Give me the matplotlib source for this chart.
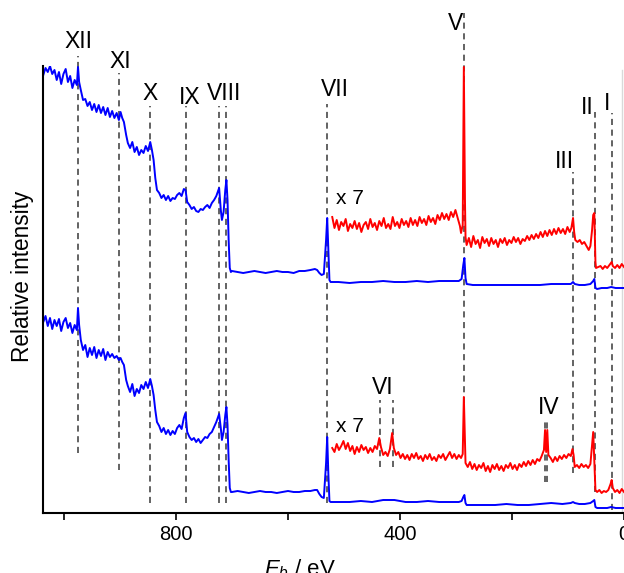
#!/usr/bin/env python

import matplotlib.pyplot as plt

plt.rcParams["font.family"] = ["Liberation Sans", "DejaVu Sans"]
plt.rcParams["mathtext.fontset"] = "custom"
plt.rcParams["mathtext.rm"] = "Liberation Sans"
plt.rcParams["mathtext.it"] = "Liberation Sans:italic"

# survey spectra, binding energy in eV, intensity in arbitrary units
BLUE_EV = [
    1037, 1033, 1029, 1025, 1021, 1017, 1013, 1009, 1005, 1001, 997, 993, 989, 985, 981, 977,
    975, 973, 970,
    966, 962, 958, 954, 950, 946, 942, 938, 934, 930, 926, 922, 918, 914, 910, 906, 902,
    899, 896, 893, 889, 886,
    882, 878, 874, 870, 866, 862, 858, 854, 850, 846,
    843, 840, 837, 834,
    830, 826, 822, 818, 814, 810, 806, 802, 798, 794, 790, 786,
    783, 780,
    776, 772, 768, 764, 760, 756, 752, 748, 744, 740, 736, 732, 728,
    723, 720, 718, 715, 712, 710, 708, 706, 704, 702,
    700, 690, 680, 670, 660, 650, 640, 630, 620, 610, 600, 590, 580, 570, 560,
    552, 548, 544, 540, 536, 532, 530, 528, 526, 524,
    510, 490, 470, 450, 430, 410, 390, 370, 350, 330, 310, 295,
    290, 287, 285, 283, 281,
    270, 250, 230, 210, 190, 170, 150, 130, 110,
    95, 91, 88, 80, 70, 60, 55, 53, 51, 48, 40, 30, 23, 15, 5, 0,
]

TOP_BLUE = [
    438, 445, 441, 447, 439, 443, 433, 441, 429, 439, 444, 431, 437, 425, 433, 428,
    446, 431, 423,
    413, 414, 407, 411, 403, 409, 401, 408, 400, 406, 398, 405, 396, 402, 395, 400, 393,
    401, 395, 391, 378, 370,
    365, 371, 361, 366, 358, 363, 360, 367, 362, 371,
    363, 353, 335, 323,
    320, 315, 318, 313, 317, 312, 315, 314, 318, 320, 317, 324,
    323, 311,
    308, 304, 306, 302, 301, 304, 303, 306, 308, 305, 310, 313, 317,
    325, 303, 293, 301, 323, 333, 313, 273, 245, 241,
    242, 241, 240, 241, 242, 241, 240, 241, 242, 241, 241, 240, 242, 242, 243,
    244, 243, 240, 238, 239, 273, 295, 263, 233, 231,
    231, 230, 231, 231, 232, 231, 231, 232, 231, 232, 232, 232,
    234, 248, 255, 235, 229,
    228, 228, 228, 228, 228, 228, 228, 229, 229,
    229, 231, 229, 228, 228, 229, 232, 234, 225, 224, 225, 225, 226, 225, 225, 225,
]

BOTTOM_BLUE = [
    191, 197, 187, 195, 184, 193, 187, 194, 182, 191, 195, 185, 190, 180, 188, 183,
    205, 188, 173,
    163, 168, 156, 165, 158, 166, 155, 163, 157, 164, 153, 161, 156, 159, 155, 157, 153,
    155, 151, 148, 133, 127,
    121, 129, 117, 124, 120, 128, 124, 131, 125, 134,
    127, 118, 103, 91,
    87, 81, 85, 79, 83, 78, 82, 79, 85, 88, 84, 95,
    100, 81,
    76, 73, 75, 71, 74, 70, 73, 76, 75, 79, 81, 86, 91,
    99, 85, 73, 81, 98, 106, 88, 53, 25, 21,
    21, 22, 21, 20, 21, 22, 21, 21, 20, 21, 22, 21, 21, 22, 22,
    23, 23, 19, 16, 15, 50, 76, 40, 12, 11,
    11, 11, 12, 11, 13, 13, 11, 11, 12, 11, 11, 11,
    12, 16, 18, 10, 8,
    8, 8, 8, 9, 8, 8, 9, 10, 9,
    10, 11, 10, 9, 9, 10, 12, 13, 6, 5, 5, 5, 6, 5, 5, 5,
]

# x 7 magnified traces below 520 eV
TOP_RED_EV = [
    521, 517, 513, 509, 505, 501, 497, 493, 489, 485, 481, 477, 473, 469, 465, 461,
    457, 453, 449, 445, 441, 437, 433, 429, 425, 421, 417, 413, 409, 405, 401, 397,
    393, 389, 385, 381, 377, 373, 369, 365, 361, 357, 353, 349, 345, 341, 337, 333,
    329, 325, 321, 317, 313, 309, 305, 301, 297,
    293, 291, 288, 286, 284, 283, 281,
    277, 273, 269, 265, 261, 257, 253, 249, 245, 241, 237, 233, 229, 225, 221, 217,
    213, 209, 205, 201, 197, 193, 189, 185, 181, 177, 173, 169, 165, 161, 157, 153,
    149, 145, 141, 137, 133, 129, 125, 121, 117, 113, 109, 105, 101, 97, 94,
    91, 89, 87, 83, 79, 75, 71, 67, 63, 60, 57, 55, 53, 52, 51, 50,
    46, 42, 38, 34, 30, 26, 22, 20, 16, 12, 8, 4, 0,
]

TOP_RED = [
    296, 285, 293, 283, 291, 287, 294, 282, 289, 285, 292, 284, 290, 281, 288, 291,
    284, 294, 286, 290, 283, 292, 287, 295, 285, 289, 284, 296, 287, 291, 285, 294,
    288, 292, 286, 295, 288, 293, 287, 296, 290, 294, 288, 297, 291, 295, 289, 298,
    293, 300, 294, 299, 293, 301, 296, 303, 295,
    287, 280, 288, 446, 313, 276, 268,
    275, 266, 277, 269, 273, 265, 276, 270, 274, 267, 275, 269, 273, 266, 274, 270,
    275, 268, 273, 270, 276, 271, 275, 269, 274, 272, 277, 273, 278, 274, 279, 275,
    281, 276, 282, 277, 283, 278, 284, 279, 285, 280, 284, 279, 286, 281, 285,
    295, 281, 273, 271, 273, 269, 271, 267, 263, 267, 283, 298, 300, 273, 251, 245,
    246, 247, 244, 247, 245, 248, 251, 247, 245, 248, 245, 249, 246,
]

BOTTOM_RED_EV = [
    521, 517, 513, 509, 505, 501, 497, 493, 489, 485, 481, 477, 473, 469, 465, 461,
    457, 453, 449, 445, 441, 437, 434, 430, 426, 422, 418, 414, 411, 407, 403, 399,
    395, 391, 387, 383, 379, 375, 371, 367, 363, 359, 355, 351, 347, 343, 339, 335,
    331, 327, 323, 319, 315, 311, 307, 303, 299, 295, 291, 288, 286, 284, 283,
    279, 275, 271, 267, 263, 259, 255, 251, 247, 243, 239, 235, 231, 227, 223, 219,
    215, 211, 207, 203, 199, 195, 191, 187, 183, 179, 175, 171, 167, 163, 159, 155,
    151, 147, 143, 141, 139, 137, 135, 131, 127, 123, 119, 115, 111, 107, 103, 99,
    95, 92, 90, 88, 84, 80, 76, 72, 68, 64, 60, 57, 55, 53, 51, 48,
    44, 40, 36, 32, 28, 24, 22, 20, 16, 12, 8, 4, 0,
]

BOTTOM_RED = [
    65, 61, 69, 63, 67, 72, 64, 70, 62, 67, 59, 66, 61, 68, 63, 66,
    60, 65, 61, 67, 64, 75, 66, 58, 61, 57, 64, 80, 65, 58, 61, 55,
    59, 54, 58, 53, 59, 55, 60, 54, 57, 52, 58, 54, 59, 53, 56, 52,
    58, 55, 59, 53, 57, 61, 55, 59, 54, 58, 55, 59, 116, 73, 50,
    46, 51, 44, 49, 43, 48, 45, 50, 42, 47, 41, 48, 44, 49, 43, 47,
    42, 48, 45, 50, 44, 48, 43, 49, 46, 51, 47, 52, 48, 53, 49, 54,
    52, 57, 63, 83, 61, 83, 58, 55, 51, 56, 52, 57, 54, 58, 55, 59,
    57, 64, 58, 46, 48, 45, 49, 46, 48, 45, 49, 68, 81, 53, 23, 21,
    23, 20, 22, 21, 23, 29, 33, 25, 21, 23, 20, 24, 21,
]

# peak markers: position, top and bottom of the dashed line
MARK_EV = [975, 901, 846, 783, 723, 710, 530, 285, 90.5, 51, 22, 436, 413, 141.5, 137.5]
MARK_TOP = [457, 440, 407, 407, 407, 407, 409, 500, 341, 401, 400, 113, 113, 95, 95]
MARK_BOTTOM = [60, 43, 10, 10, 10, 10, 10, 110, 40, 21, 3, 46, 46, 31, 31]

LABEL_TEXT = ["XII", "XI", "X", "IX", "VIII", "VII", "V", "III", "II", "I", "VI", "IV"]
LABEL_EV = [975, 900, 846, 775, 714, 516, 300, 107, 66, 30, 430, 134]
LABEL_Y = [471, 451, 419, 416, 419, 424, 490, 351, 405, 410, 126, 106]

SCALE_TEXT = ["x 7", "x 7"]
SCALE_EV = [489, 489]
SCALE_Y = [314, 86]

XTICKS = [1000, 800, 600, 400, 200, 0]
XTICK_LABELS = ["", "800", "", "400", "", "0"]


def main():
    fig = plt.figure(figsize=(6.24, 5.73), dpi=100)
    ax = fig.add_axes([43 / 624, 60 / 573, 581 / 624, 447 / 573])

    for x, y0, y1 in zip(MARK_EV, MARK_BOTTOM, MARK_TOP):
        ax.plot([x, x], [y0, y1], color="0.22", lw=1.1, dashes=(4, 3),
                clip_on=False, zorder=1)

    ax.plot(BLUE_EV, TOP_BLUE, color="#0000ff", lw=1.4, zorder=2)
    ax.plot(BLUE_EV, BOTTOM_BLUE, color="#0000ff", lw=1.4, zorder=2)
    ax.plot(TOP_RED_EV, TOP_RED, color="#ff0000", lw=1.4, zorder=2)
    ax.plot(BOTTOM_RED_EV, BOTTOM_RED, color="#ff0000", lw=1.4, zorder=2)

    for txt, x, y in zip(LABEL_TEXT, LABEL_EV, LABEL_Y):
        ax.text(x, y, txt, ha="center", va="center", fontsize=16.5, clip_on=False)
    for txt, x, y in zip(SCALE_TEXT, SCALE_EV, SCALE_Y):
        ax.text(x, y, txt, ha="center", va="center", fontsize=15)

    # faint frame line at the right end
    ax.plot([3, 3], [0, 443], color="0.85", lw=1.0, zorder=0)

    ax.set_xlim(1037.5, 0)
    ax.set_ylim(0, 447)
    ax.set_xticks(XTICKS)
    ax.set_xticklabels(XTICK_LABELS)
    ax.set_yticks([])
    ax.tick_params(axis="x", labelsize=14.5, length=5, width=1.2, pad=4)

    for side in ["top", "right"]:
        ax.spines[side].set_visible(False)
    for side in ["left", "bottom"]:
        ax.spines[side].set_linewidth(1.5)

    ax.set_xlabel("$E_b$ / eV", fontsize=16, labelpad=2)
    ax.xaxis.set_label_coords(0.442, -0.1)
    fig.text(23 / 624, 1 - 276 / 573, "Relative intensity", rotation=90,
             ha="center", va="center", fontsize=16.3)

    fig.savefig("out.png", dpi=100)
    plt.close(fig)


if __name__ == "__main__":
    main()
